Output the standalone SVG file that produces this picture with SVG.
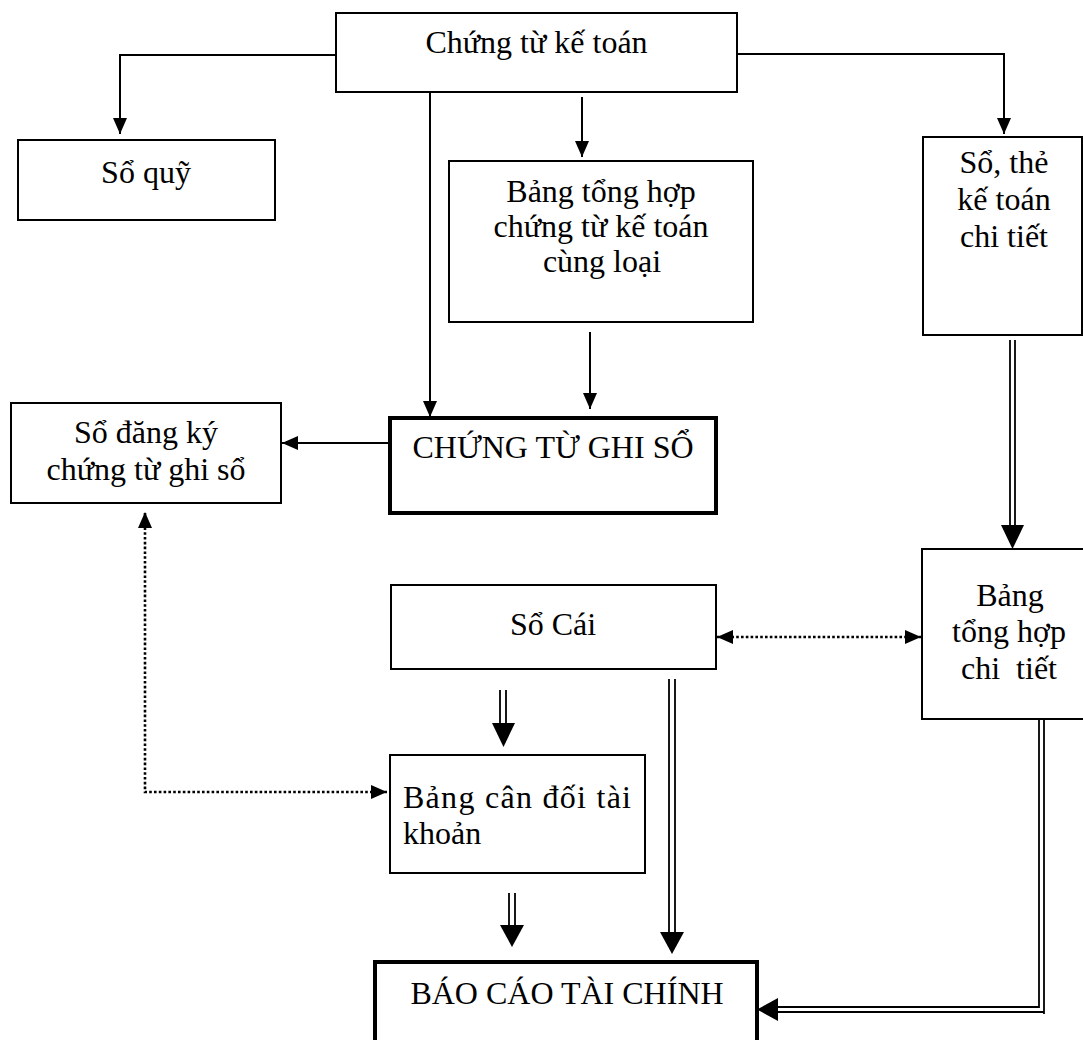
<svg xmlns="http://www.w3.org/2000/svg" width="1083" height="1040" viewBox="0 0 1083 1040">
<style>
.box{fill:#fff;stroke:#000;stroke-width:2}
.thick{fill:#fff;stroke:#000;stroke-width:4}
.t{font-family:"Liberation Serif","Times New Roman",serif;font-size:32px;fill:#000;text-anchor:middle}
.tl{font-family:"Liberation Serif","Times New Roman",serif;font-size:32px;fill:#000}
.ln{fill:none;stroke:#000;stroke-width:2}
.dl{fill:none;stroke:#000;stroke-width:1.8}
.dot{fill:none;stroke:#000;stroke-width:2.6;stroke-dasharray:2.6 2.2}
.head{fill:#000;stroke:none}
</style>
<defs>
<marker id="a" viewBox="0 0 16 14" refX="16" refY="7" markerWidth="16" markerHeight="14" markerUnits="userSpaceOnUse" orient="auto-start-reverse">
<path d="M0,0 L16,7 L0,14 Z" fill="#000"/>
</marker>
</defs>
<rect width="1083" height="1040" fill="#fff"/>
<g id="connectors">
<path class="ln" d="M336,55 H120 V134" marker-end="url(#a)"/>
<path class="ln" d="M430,92 V417" marker-end="url(#a)"/>
<path class="ln" d="M582,97 V157" marker-end="url(#a)"/>
<path class="ln" d="M737,54 H1004 V134" marker-end="url(#a)"/>
<path class="ln" d="M590,332 V409" marker-end="url(#a)"/>
<path class="ln" d="M390,443 H282" marker-end="url(#a)"/>
<path class="dot" d="M387,792 H145 V512" marker-start="url(#a)" marker-end="url(#a)"/>
<path class="dot" d="M717,637 H921" marker-start="url(#a)" marker-end="url(#a)"/>
<path class="dl" d="M1010,340 V527 M1015,340 V527"/>
<polygon class="head" points="1001,525 1024,525 1012.5,549"/>
<path class="dl" d="M500,690 V725 M506,690 V725"/>
<polygon class="head" points="492,723 515,723 503.5,747"/>
<path class="dl" d="M669,679 V934 M675,679 V934"/>
<polygon class="head" points="660,932 684,932 672,954"/>
<path class="dl" d="M509,893 V927 M515,893 V927"/>
<polygon class="head" points="500,925 524,925 512,947"/>
<path class="dl" d="M1039,719 V1007 H775 M1044,719 V1014 M1044,1012 H775"/>
<polygon class="head" points="757,1009.5 778,998 778,1021"/>
</g>
<g id="n-chungtu"><rect class="box" x="336" y="13" width="401" height="79"/><text class="t" x="536.5" y="53">Chứng từ kế toán</text></g>
<g id="n-soquy"><rect class="box" x="18" y="140" width="257" height="80"/><text class="t" x="146" y="183">Sổ quỹ</text></g>
<g id="n-bangtonghop"><rect class="box" x="449" y="161" width="304" height="161"/><text class="t" x="601" y="202">Bảng tổng hợp</text><text class="t" x="601" y="237">chứng từ kế toán</text><text class="t" x="602" y="272">cùng loại</text></g>
<g id="n-sothe"><rect class="box" x="923" y="137" width="159" height="198"/><text class="t" x="1004" y="173">Sổ, thẻ</text><text class="t" x="1004" y="210">kế toán</text><text class="t" x="1004" y="247">chi tiết</text></g>
<g id="n-sodangky"><rect class="box" x="11" y="403" width="270" height="100"/><text class="t" x="146" y="443">Sổ đăng ký</text><text class="t" x="146" y="480">chứng từ ghi sổ</text></g>
<g id="n-ctgs"><rect class="thick" x="390" y="418" width="326" height="95"/><text class="t" x="553" y="458">CHỨNG TỪ GHI SỔ</text></g>
<g id="n-socai"><rect class="box" x="391" y="585" width="325" height="84"/><text class="t" x="553" y="635">Sổ Cái</text></g>
<g id="n-bangthct"><rect class="box" x="922" y="549" width="180" height="170"/><text class="t" x="1010" y="606">Bảng</text><text class="t" x="1009" y="642">tổng hợp</text><text class="t" x="1009" y="679" xml:space="preserve">chi  tiết</text></g>
<g id="n-bangcandoi"><rect class="box" x="390" y="755" width="255" height="118"/><text class="tl" x="403" y="808" textLength="228" lengthAdjust="spacing">Bảng cân đối tài</text><text class="tl" x="403" y="844">khoản</text></g>
<g id="n-baocao"><rect class="thick" x="375" y="962" width="382" height="100"/><text class="t" x="567" y="1004">BÁO CÁO TÀI CHÍNH</text></g>
</svg>
